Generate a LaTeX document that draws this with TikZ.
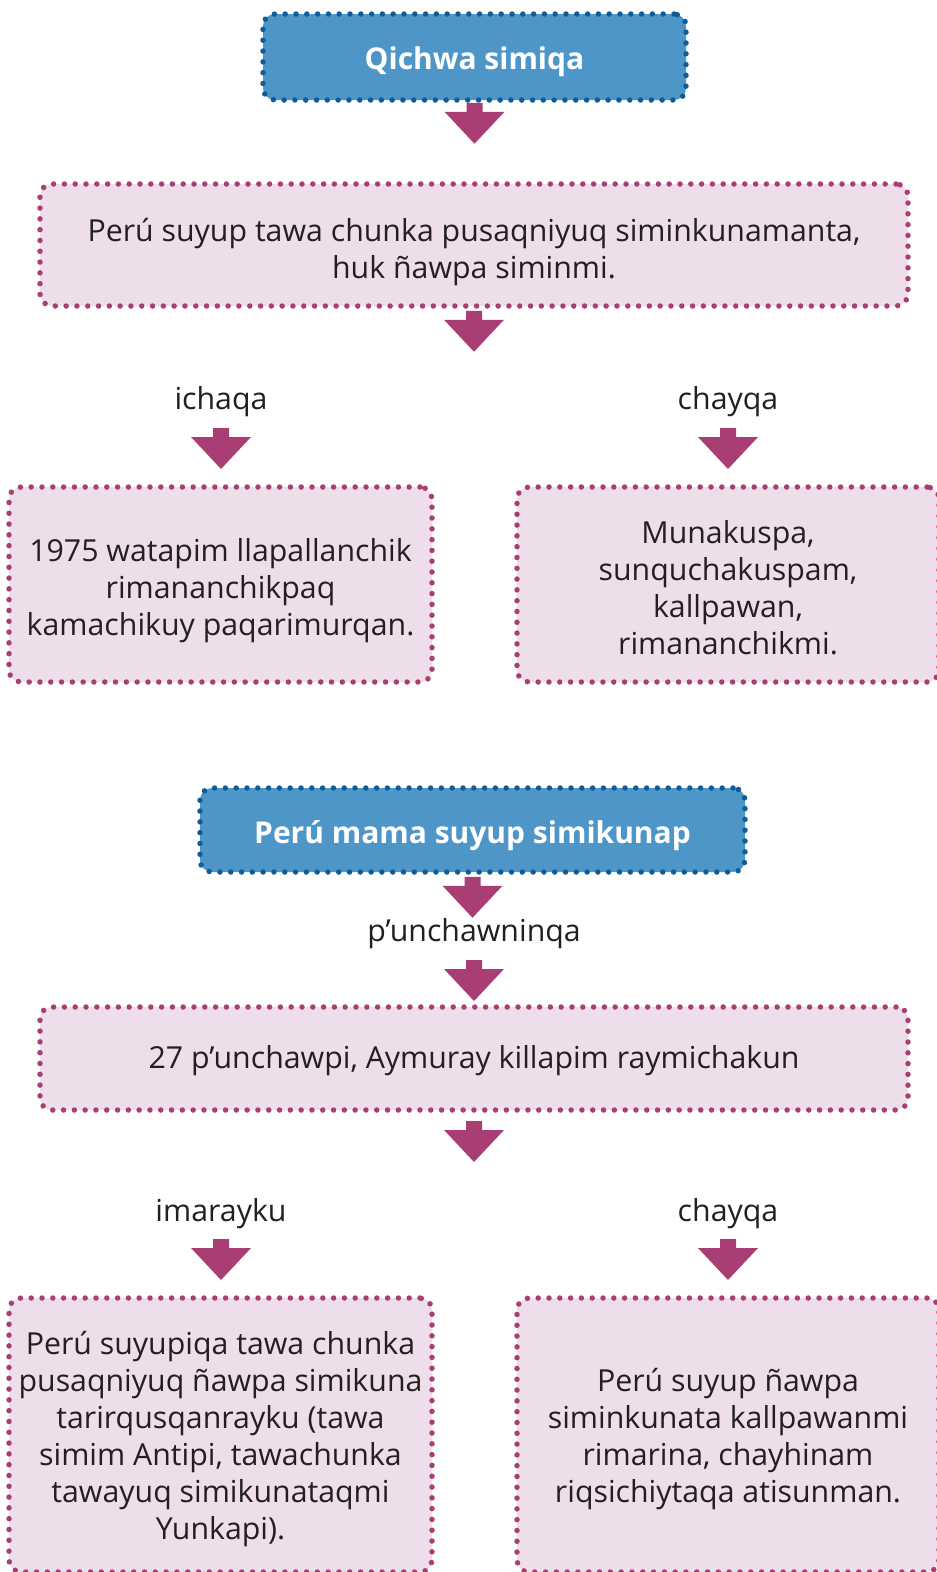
\documentclass[tikz,border=0pt]{standalone}
\usepackage{fontspec}
\setmainfont{Open Sans}
\definecolor{mag}{RGB}{168,62,116}
\definecolor{pinkfill}{RGB}{238,222,234}
\definecolor{bfill}{RGB}{78,150,200}
\definecolor{bdark}{RGB}{16,92,152}
\definecolor{txt}{RGB}{35,31,32}
\tikzset{
  dotborder/.style={line width=5.5pt, dash pattern=on 0pt off 10.8pt, line cap=round, rounded corners=12pt, inner sep=0pt},
  pinkbox/.style={dotborder, draw=mag, fill=pinkfill},
  bluebox/.style={dotborder, draw=bdark, fill=bfill},
  pinktext/.style={align=center, text=txt, inner sep=0pt, font=\fontsize{30.3}{37}\selectfont},
  bluetext/.style={align=center, text=white, inner sep=0pt, font=\fontsize{30}{37}\selectfont\bfseries},
  lbl/.style={text=txt, inner sep=0pt, font=\fontsize{30.3}{37}\selectfont},
  darrow/.pic={\fill[mag] (-8,0) -- (8,0) -- (8,9) -- (30,9) -- (0,41) -- (-30,9) -- (-8,9) -- cycle;}
}
\begin{document}
\begin{tikzpicture}[x=1pt,y=-1pt]
\useasboundingbox (0,0) rectangle (937,1572);
\clip (0,0) rectangle (937,1572);

\node[bluebox, minimum width=423pt, minimum height=86pt] (t1) at (474.5,57) {};
\node[bluetext] (t1t) at (474.5,62) {Qichwa simiqa};
\pic at (t1.south) {darrow};
\node[pinkbox, minimum width=868pt, minimum height=122pt] (b1) at (474,245) {};
\node[pinktext] (b1t) at (474,252.5)
  {Perú suyup tawa chunka pusaqniyuq siminkunamanta,\\huk ñawpa siminmi.};
\pic at ([yshift=-2pt]b1.south) {darrow};

\node[lbl] (l1) at (221,402) {ichaqa};
\node[lbl] (r1) at (728,402) {chayqa};
\coordinate (la1) at (221,428);
\coordinate (ra1) at (728,428);
\pic at (la1) {darrow};
\pic at (ra1) {darrow};

\node[pinkbox, minimum width=423pt, minimum height=195pt] (b2) at (220.5,584.5) {};
\node[pinktext] (b2t) at (220.5,591)
  {1975 watapim llapallanchik\\rimananchikpaq\\kamachikuy paqarimurqan.};
\node[pinkbox, minimum width=422pt, minimum height=195pt] (b3) at (728,584.5) {};
\node[pinktext] (b3t) at (728,587.5)
  {Munakuspa,\\sunquchakuspam,\\kallpawan,\\rimananchikmi.};

\node[bluebox, minimum width=545pt, minimum height=84pt] (t2) at (472.5,830) {};
\node[bluetext] (t2t) at (472.5,836) {Perú mama suyup simikunap};
\pic at ([yshift=-2pt]t2.south) {darrow};
\node[lbl] (l2) at (474,934) {p’unchawninqa};
\coordinate (a2) at (474,960);
\pic at (a2) {darrow};

\node[pinkbox, minimum width=868pt, minimum height=103pt] (b4) at (474,1058.5) {};
\node[pinktext] (b4t) at (474,1061)
  {27 p’unchawpi, Aymuray killapim raymichakun};
\coordinate (a3) at (474,1121);
\pic at (a3) {darrow};

\node[lbl] (l3) at (221,1214) {imarayku};
\node[lbl] (r3) at (728,1214) {chayqa};
\coordinate (la3) at (221,1239);
\coordinate (ra3) at (728,1239);
\pic at (la3) {darrow};
\pic at (ra3) {darrow};

\node[pinkbox, minimum width=423pt, minimum height=274pt] (b5) at (220.5,1435) {};
\node[pinktext] (b5t) at (220.5,1439)
  {Perú suyupiqa tawa chunka\\pusaqniyuq ñawpa simikuna\\tarirqusqanrayku (tawa\\simim Antipi, tawachunka\\tawayuq simikunataqmi\\Yunkapi).};
\node[pinkbox, minimum width=422pt, minimum height=274pt] (b6) at (728,1435) {};
\node[pinktext] (b6t) at (728,1439.5)
  {Perú suyup ñawpa\\siminkunata kallpawanmi\\rimarina, chayhinam\\riqsichiytaqa atisunman.};
\end{tikzpicture}
\end{document}
